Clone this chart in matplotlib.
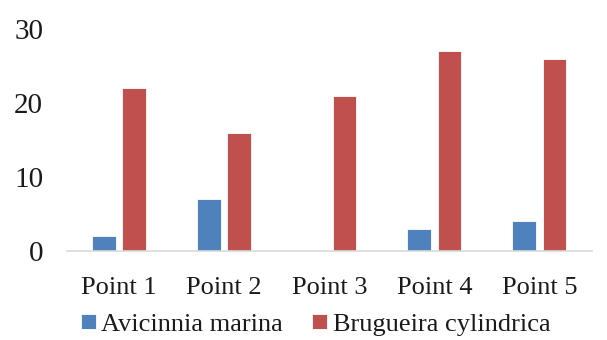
import numpy as np
import matplotlib
matplotlib.use("Agg")
import matplotlib.pyplot as plt

categories = ["Point 1", "Point 2", "Point 3", "Point 4", "Point 5"]
avicinnia = [2, 7, 0, 3, 4]
brugueira = [22, 16, 21, 27, 26]
series_names = ["Avicinnia marina", "Brugueira cylindrica"]
y_ticks = [0, 10, 20, 30]

plt.rcParams["font.family"] = ["Liberation Serif", "DejaVu Serif"]

fig = plt.figure(figsize=(6.07, 3.40), dpi=100)
ax = fig.add_axes([0.110, 0.262, 0.865, 0.653])

x = np.arange(len(categories))
w = 0.225
ax.bar(x - 0.143, avicinnia, w, color="#4F81BD", edgecolor="white", linewidth=0.6,
       label=series_names[0])
ax.bar(x + 0.143, brugueira, w, color="#C0504D", edgecolor="white", linewidth=0.6,
       label=series_names[1])

ax.set_xlim(-0.5, len(categories) - 0.5)
ax.set_ylim(0, 30)
ax.set_yticks(y_ticks)
ax.set_xticks(x)
ax.set_xticklabels(categories)
ax.tick_params(axis="both", length=0, colors="#1a1a1a")
ax.tick_params(axis="x", pad=19, labelsize=19)
ax.tick_params(axis="y", pad=17, labelsize=21)
for s in ["top", "right", "left"]:
    ax.spines[s].set_visible(False)
ax.spines["bottom"].set_color("#D9D9D9")
ax.spines["bottom"].set_linewidth(1.2)

fig.legend(loc="center", bbox_to_anchor=(0.52, 0.045), ncol=2, frameon=False,
           fontsize=19, handlelength=0.55, handleheight=0.55, handletextpad=0.22,
           columnspacing=1.1, labelcolor="#1a1a1a", borderpad=0)

fig.savefig("out.png", dpi=100)
